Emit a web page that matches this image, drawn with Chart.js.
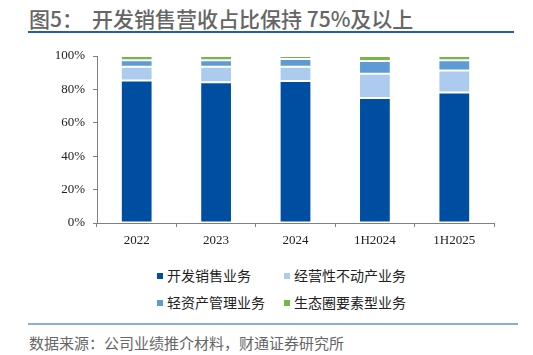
<!DOCTYPE html>
<html><head><meta charset="utf-8">
<script src="https://cdn.jsdelivr.net/npm/chart.js@4"></script>
<style>
html,body{margin:0;padding:0;background:#fff;}
#wrap{position:relative;width:533px;height:355px;overflow:hidden;font-family:"Noto Sans CJK SC","Noto Sans",sans-serif;}
#title{position:absolute;left:29px;top:3px;font-size:21px;font-weight:500;color:#666;white-space:nowrap;}
#title .gap{display:inline-block;width:9px;}
#line1{position:absolute;left:28px;top:31px;width:486px;height:2px;background:#1f5fae;}
#line2{position:absolute;left:28px;top:323px;width:490px;height:2px;background:#8aaedb;}
#src{position:absolute;left:29px;top:332px;font-size:15px;color:#666;white-space:nowrap;}
#cv{position:absolute;left:0;top:0;}
.lg{position:absolute;font-size:14px;color:#222;white-space:nowrap;line-height:16px;}
.lg i{display:inline-block;width:6px;height:6px;margin-right:4px;vertical-align:middle;position:relative;top:-1px;}
</style></head>
<body><div id="wrap">
<div id="title">图5：<span class="gap"></span>开发销售营收占比保持 75%及以上</div>
<div id="line1"></div>
<canvas id="cv" width="533" height="260"></canvas>
<div id="legend"></div>
<div id="line2"></div>
<div id="src">数据来源：公司业绩推介材料，财通证券研究所</div>
</div>
<script>
const categories = ["2022","2023","2024","1H2024","1H2025"];
const seriesNames = ["开发销售业务","经营性不动产业务","轻资产管理业务","生态圈要素型业务"];
const devSales = [85.3, 84.3, 85.1, 74.8, 78.2];
const operating = [8.3, 9.3, 8.5, 14.5, 13.1];
const lightAsset = [3.8, 3.8, 4.6, 7.7, 6.1];
const ecosystem = [2.6, 2.6, 1.8, 3.0, 2.6];
const yTicks = [0, 20, 40, 60, 80, 100];
const colors = ["#004ea2", "#adcbef", "#5e9bd4", "#72b843"];

const values = [devSales, operating, lightAsset, ecosystem];

const lgPos = [[157,267],[284,267],[157,294],[284,294]];
const lgEl = document.getElementById('legend');
seriesNames.forEach((n,i)=>{
  const d = document.createElement('div');
  d.className='lg';
  d.style.left = lgPos[i][0]+'px';
  d.style.top = lgPos[i][1]+'px';
  d.innerHTML = '<i style="background:'+colors[i]+'"></i>'+n;
  lgEl.appendChild(d);
});

const axisColor = "#808080";
new Chart(document.getElementById('cv'), {
  type: 'bar',
  data: {
    labels: categories,
    datasets: seriesNames.map((n,i)=>({
      label: n,
      data: values[i],
      backgroundColor: colors[i],
      borderColor: 'rgba(255,255,255,0.45)',
      borderWidth: 1,
      borderSkipped: false,
      categoryPercentage: 1,
      barPercentage: 0.4
    }))
  },
  options: {
    responsive: false,
    animation: false,
    devicePixelRatio: 1,
    layout: { padding: { left: 0, right: 39, top: 56, bottom: 0 } },
    plugins: { legend: { display: false }, tooltip: { enabled: false }, title: { display: false } },
    scales: {
      x: {
        stacked: true,
        afterFit: s => { s.height = 37; },
        grid: { offset: true, drawOnChartArea: false, drawTicks: true, tickLength: 4, color: axisColor },
        border: { display: true, color: axisColor, width: 1 },
        ticks: { padding: 6, color: '#222', font: { family: '"Liberation Serif","Times New Roman",serif', size: 13 } }
      },
      y: {
        stacked: true,
        min: 0, max: 100,
        afterFit: s => { s.width = 97; },
        afterBuildTicks: s => { s.ticks = yTicks.map(v => ({ value: v })); },
        grid: { drawOnChartArea: false, drawTicks: true, tickLength: 4, color: axisColor },
        border: { display: true, color: axisColor, width: 1 },
        ticks: { padding: 8, color: '#222', callback: v => v + '%', font: { family: '"Liberation Serif","Times New Roman",serif', size: 13 } }
      }
    }
  }
});
</script>
</body></html>
